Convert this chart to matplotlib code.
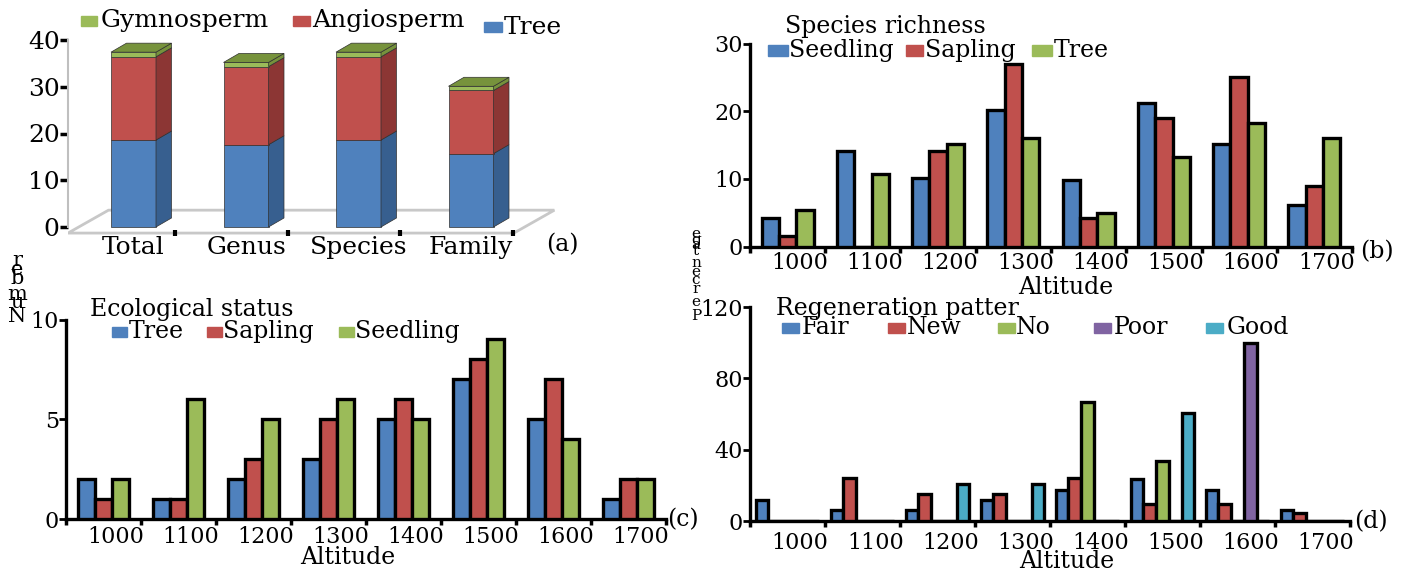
import matplotlib.pyplot as plt
from matplotlib.patches import Rectangle, Polygon
import numpy as np

plt.rcParams['font.family'] = ['DejaVu Serif']

W, H = 1406, 571

# (a) taxonomic composition
taxa = ['Total', 'Genus', 'Species', 'Family']
tree_a = [18.6, 17.6, 18.6, 15.7]
angio_a = [17.8, 16.7, 17.8, 13.5]
gymno_a = [1.0, 0.9, 1.0, 0.9]

altitudes = ['1000', '1100', '1200', '1300', '1400', '1500', '1600', '1700']

# (b) species richness
rich_seedling = [4.2, 14.1, 10.1, 20.2, 9.9, 21.2, 15.2, 6.1]
rich_sapling = [1.5, 0, 14.1, 27.0, 4.2, 19.0, 25.1, 9.0]
rich_tree = [5.4, 10.7, 15.2, 16.0, 5.0, 13.2, 18.3, 16.1]

# (c) ecological status
eco_tree = [2, 1, 2, 3, 5, 7, 5, 1]
eco_sapling = [1, 1, 3, 5, 6, 8, 7, 2]
eco_seedling = [2, 6, 5, 6, 5, 9, 4, 2]

# (d) regeneration pattern
reg_fair = [12, 6, 6, 12, 17.5, 23.5, 17.5, 6]
reg_new = [0, 24, 15, 15, 24, 9.5, 9.5, 4.7]
reg_no = [0, 0, 0, 0, 67, 33.5, 0, 0]
reg_poor = [0, 0, 0, 0, 0, 0, 100, 0]
reg_good = [0, 0, 20.5, 20.5, 0, 60.5, 0, 0]

BLUE, RED, GREEN, PURPLE, CYAN = '#4F81BD', '#C0504D', '#9BBB59', '#8064A2', '#4BACC6'
FS = 17      # legend / title text
TICK = 16    # tick labels

fig = plt.figure(figsize=(W / 100, H / 100), dpi=100)


def axes_px(left, right, top, bottom):
    return fig.add_axes([left / W, 1 - bottom / H, (right - left) / W, (bottom - top) / H])


def key(sq_x, text_x, y, color, label, size=FS, w=16, h=10):
    fig.add_artist(Rectangle((sq_x / W, 1 - (y + h / 2) / H), w / W, h / H,
                             transform=fig.transFigure, color=color))
    fig.text(text_x / W, 1 - y / H, label, ha='left', va='center', fontsize=size)


def txt(x, y, s, size=FS, ha='left'):
    fig.text(x / W, 1 - y / H, s, ha=ha, va='center', fontsize=size)


def stack(word, x, ys, size):
    # letters stacked bottom to top, as in the broken rotated label
    for ch, y in zip(word, ys):
        fig.text(x / W, 1 - y / H, ch, ha='center', va='center', fontsize=size)


def grouped(ax, series, colors, width):
    x = np.arange(len(altitudes))
    n = len(series)
    for i, (vals, c) in enumerate(zip(series, colors)):
        ax.bar(x + (i - (n - 1) / 2) * width, vals, width, color=c,
               edgecolor='black', linewidth=2.4, zorder=3)


def style(ax, ymax, yticks, shift, pad):
    ax.set_xlim(-0.5, 7.5)
    ax.set_ylim(0, ymax)
    for s in ['top', 'right']:
        ax.spines[s].set_visible(False)
    for s in ['left', 'bottom']:
        ax.spines[s].set_linewidth(2.4)
    ax.set_yticks(yticks)
    ax.set_xticks(np.arange(8) + shift, altitudes)
    ax.set_xticks(np.arange(-0.5, 8, 1), minor=True)
    ax.tick_params(axis='x', which='major', length=0, pad=pad, labelsize=TICK)
    ax.tick_params(axis='x', which='minor', direction='out', length=4, width=2.5)
    ax.tick_params(axis='y', direction='out', length=5, width=2, pad=0, labelsize=TICK)
    ax.patch.set_alpha(0)


# ---- (a) pseudo 3D stacked bars ----
px_x, px_y = 112.5, 4.675
xmin = -(133.5 - 68) / px_x
xmax = xmin + (560 - 68) / px_x
axa = axes_px(68, 560, 40, 227 + 2 * px_y)
axa.set_xlim(xmin, xmax)
axa.set_ylim(-2, 40)
dx, dy = 15.5 / px_x, 9 / px_y
bw = 0.40

floor = Polygon([(xmin, -1.3), (xmin + 0.36, 3.6), (xmax - 0.05, 3.6), (xmax - 0.41, -1.3)],
                closed=True, facecolor='white', edgecolor='#c8c8c8', lw=2, zorder=1)
axa.add_patch(floor)

faces = [(BLUE, '#375F8F'), (RED, '#8C3634'), (GREEN, '#76923C')]
xs = np.arange(len(taxa))
bottom = np.zeros(len(taxa))
for vals, (front, side) in zip([tree_a, angio_a, gymno_a], faces):
    vals = np.array(vals)
    axa.bar(xs, vals, bw, bottom=bottom, color=front, edgecolor='#303030', lw=0.5, zorder=3)
    for xi, b, v in zip(xs, bottom, vals):
        r = xi + bw / 2
        axa.add_patch(Polygon([(r, b), (r + dx, b + dy), (r + dx, b + v + dy), (r, b + v)],
                              closed=True, facecolor=side, edgecolor='#303030', lw=0.5, zorder=3))
    bottom = bottom + vals
for xi, top in zip(xs, bottom):
    l, r = xi - bw / 2, xi + bw / 2
    axa.add_patch(Polygon([(l, top), (l + dx, top + dy), (r + dx, top + dy), (r, top)],
                          closed=True, facecolor='#77933C', edgecolor='#303030', lw=0.5, zorder=3))

for s in ['top', 'right', 'bottom']:
    axa.spines[s].set_visible(False)
axa.spines['left'].set_color('#bfbfbf')
axa.spines['left'].set_linewidth(1.5)
axa.spines['left'].set_bounds(0, 40)
axa.set_yticks([0, 10, 20, 30, 40])
axa.tick_params(axis='y', direction='out', length=6, width=2.5, color='black', pad=0, labelsize=18)
axa.set_xticks(xs, taxa)
axa.set_xticks(xs + 0.37, minor=True)
axa.tick_params(axis='x', which='major', length=0, pad=0, labelsize=18)
axa.tick_params(axis='x', which='minor', direction='in', length=4, width=3)
axa.patch.set_alpha(0)

key(81, 101, 21, GREEN, 'Gymnosperm', size=18, w=16, h=10)
key(293, 312, 21, RED, 'Angiosperm', size=18, w=17, h=10)
key(484, 504, 27, BLUE, 'Tree', size=18, w=18, h=10)
txt(546, 245, '(a)')

# ---- (b) species richness ----
axb = axes_px(750, 1352, 43.5, 246.5)
grouped(axb, [rich_seedling, rich_sapling, rich_tree], [BLUE, RED, GREEN], 0.23)
style(axb, 30, [0, 10, 20, 30], 0.16, 4)
txt(785, 26, 'Species richness')
key(768, 789, 50.5, BLUE, 'Seedling', w=20)
key(906, 925, 50.5, RED, 'Sapling', w=17)
key(1032, 1054, 50.5, GREEN, 'Tree', w=20)
txt(1360, 252, '(b)')
txt(1066, 287, 'Altitude', ha='center')

# ---- (c) ecological status ----
axc = axes_px(66, 666, 319.5, 519)
grouped(axc, [eco_tree, eco_sapling, eco_seedling], [BLUE, RED, GREEN], 0.23)
style(axc, 10, [0, 5, 10], 0.16, 5)
txt(90, 309.5, 'Ecological status')
key(112, 129, 331.5, BLUE, 'Tree', w=15)
key(207, 223, 331.5, RED, 'Sapling', w=15)
key(339, 355, 331.5, GREEN, 'Seedling', w=15)
txt(667, 520, '(c)')
txt(348, 557, 'Altitude', ha='center')

# ---- (d) regeneration pattern ----
axd = axes_px(750, 1350, 307, 521)
grouped(axd, [reg_fair, reg_new, reg_no, reg_poor, reg_good],
        [BLUE, RED, GREEN, PURPLE, CYAN], 0.17)
style(axd, 120, [0, 40, 80, 120], 0.17, 8)
txt(776, 308, 'Regeneration patter')
key(782, 802, 328, BLUE, 'Fair', w=17)
key(888, 907, 328, RED, 'New', w=17)
key(998, 1016, 328, GREEN, 'No', w=17)
key(1094, 1114, 328, PURPLE, 'Poor', w=17)
key(1206, 1227, 328, CYAN, 'Good', w=17)
txt(1354, 522, '(d)')
txt(1067, 561, 'Altitude', ha='center')

# broken vertical axis labels
stack('Number', 17, [317, 303, 294, 278, 269, 261], 15)
stack('Percentage', 696, [316, 302, 289, 280, 272, 263, 251, 245, 240, 234], 11)

fig.savefig('out.png', dpi=100)
